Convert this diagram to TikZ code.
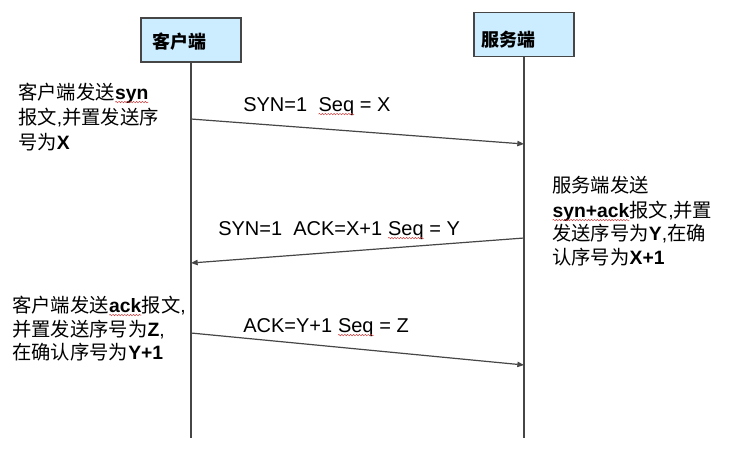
\documentclass[tikz,border=0pt]{standalone}
\usepackage{fontspec}
\setmainfont{Liberation Sans}
\newfontfamily\cjk{Noto Sans CJK SC}
\usetikzlibrary{arrows.meta,decorations.pathmorphing}
\definecolor{boxfill}{RGB}{204,236,255}
\definecolor{linegray}{RGB}{70,70,70}
\definecolor{spellred}{RGB}{205,60,60}
\tikzset{
  hdr/.style={draw=linegray,line width=0.9pt,fill=boxfill,minimum width=75pt,minimum height=33pt,inner sep=0pt},
  hdrtext/.style={inner sep=0pt,anchor=base west,font=\fontsize{13.5}{15}\selectfont\bfseries},
  life/.style={draw=linegray,line width=1.3pt},
  msg/.style={draw=linegray,line width=0.9pt,-{Triangle[length=5pt,width=4pt]}},
  txt/.style={inner sep=0pt,anchor=base west,font=\fontsize{14.5}{18}\selectfont},
  lab/.style={inner sep=0pt,anchor=base west,font=\fontsize{15}{18}\selectfont},
  spell/.style={draw=spellred,line width=0.35pt,decorate,decoration={snake,amplitude=0.55pt,segment length=2.2pt}}
}
\newcommand\wv[1]{\tikz[baseline=(w.base)]{\node[inner sep=0pt,outer sep=0pt,anchor=base](w){#1};\draw[spell] ([yshift=-2.3pt]w.base west)--([yshift=-2.3pt]w.base east);}}
\begin{document}
\begin{tikzpicture}[x=0.75pt,y=-0.75pt]
\useasboundingbox[fill=white] (0,0) rectangle (732,455);
% header boxes
\node[hdr] (cl) at (191,40) {};
\node[hdr] (sv) at (524,34.5) {};
\node[hdrtext] (clt) at (152,48) {\cjk 客户端};
\node[hdrtext] (svt) at (481,46) {\cjk 服务端};
% lifelines
\coordinate (clend) at (191,438);
\coordinate (svend) at (524,438);
\draw[life] (cl.south) -- (clend);
\draw[life] (sv.south) -- (svend);
% message end points
\coordinate (m1s) at (191,119);
\coordinate (m1e) at (524,144);
\coordinate (m2s) at (524,238);
\coordinate (m2e) at (191,263);
\coordinate (m3s) at (191,333);
\coordinate (m3e) at (524,365);
\draw[msg] (m1s) -- (m1e);
\draw[msg] (m2s) -- (m2e);
\draw[msg] (m3s) -- (m3e);
% message labels
\node[lab] (lab1) at (243,111) {SYN=1\ \ \wv{Seq} = X};
\node[lab] (lab2) at (218,235) {SYN=1\ \ ACK=X+1 \wv{Seq} = Y};
\node[lab] (lab3) at (243,332) {ACK=Y+1 \wv{Seq} = Z};
% left notes 1
\node[txt] (n1a) at (18,99) {{\cjk 客户端发送}\wv{\textbf{syn}}};
\node[txt] (n1b) at (18,124) {{\cjk 报文},{\cjk 并置发送序}};
\node[txt] (n1c) at (18,149) {{\cjk 号为}\textbf{X}};
% right notes
\node[txt] (n2a) at (552,192) {\cjk 服务端发送};
\node[txt] (n2b) at (552,217) {\wv{\textbf{syn+ack}}{\cjk 报文},{\cjk 并置}};
\node[txt] (n2c) at (552,240) {{\cjk 发送序号为}\textbf{Y},{\cjk 在确}};
\node[txt] (n2d) at (552,264) {{\cjk 认序号为}\textbf{X+1}};
% left notes 3
\node[txt] (n3a) at (12,312) {{\cjk 客户端发送}\wv{\textbf{ack}}{\cjk 报文},};
\node[txt] (n3b) at (12,336) {{\cjk 并置发送序号为}\textbf{Z},};
\node[txt] (n3c) at (12,359) {{\cjk 在确认序号为}\textbf{Y+1}};
\end{tikzpicture}
\end{document}
